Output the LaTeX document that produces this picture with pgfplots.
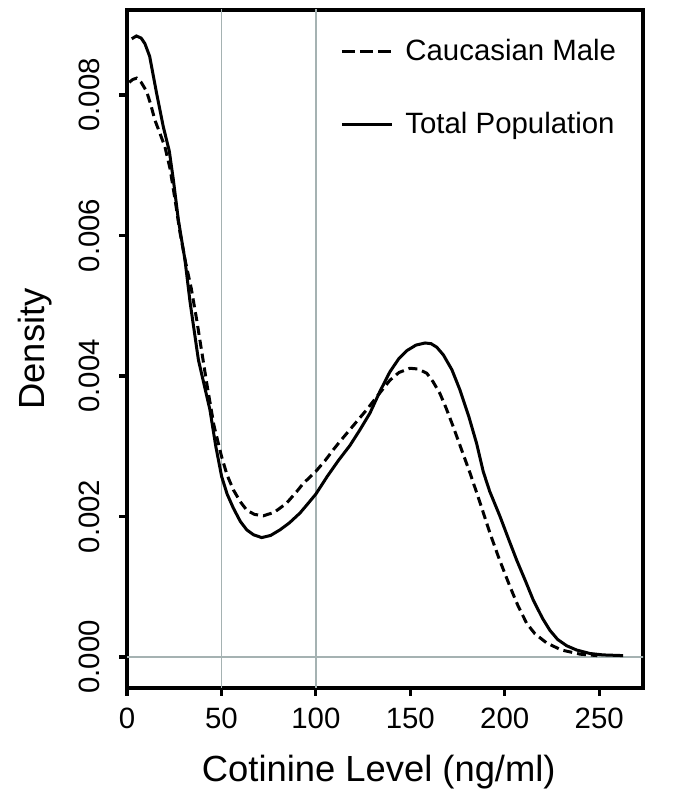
\documentclass[border=0pt]{standalone}
\usepackage{pgfplots}
\pgfplotsset{compat=1.18}
\usepackage{fontspec}
\setmainfont{Liberation Sans}
\definecolor{gridc}{RGB}{165,178,178}
\pgfplotstableread{
x y
2.5 0.00880
5 0.00884
7.5 0.00881
9.5 0.00873
12 0.00855
15.7 0.00802
19.2 0.00755
22.4 0.00720
24.5 0.00680
27.2 0.00622
30.7 0.00565
33.4 0.00505
37.8 0.00423
43.9 0.00352
47 0.00300
50.1 0.00257
53 0.00232
56.3 0.00212
60 0.00193
63.4 0.00181
67 0.00174
71.3 0.00170
76 0.00173
81 0.00181
86 0.00191
91.6 0.00205
96 0.00219
100 0.00232
106 0.00257
112 0.00280
118 0.00301
123 0.00322
128.6 0.00347
133.9 0.00378
139.2 0.00406
144 0.00425
148.1 0.00436
153 0.00444
157.8 0.00447
161 0.00446
164 0.00441
167.5 0.00430
172 0.00409
176.3 0.00380
181 0.00342
185.1 0.00304
188.6 0.00264
192 0.00236
197.5 0.00200
202 0.00168
206.3 0.00138
211 0.00108
215.1 0.00081
220 0.00055
223.9 0.00038
228 0.00025
232.8 0.00016
238 0.00010
245.1 0.00005
252 0.00003
262.7 0.00002
}\total
\pgfplotstableread{
x y
1.2 0.00818
3 0.00822
5.1 0.00824
7.5 0.00818
10.4 0.00805
12.5 0.00787
14.8 0.00764
17.5 0.00745
20.1 0.00726
22.8 0.00695
25.5 0.00650
28 0.00605
31 0.00562
34 0.00525
36.9 0.00480
42.2 0.00390
46 0.00330
50.1 0.00285
53 0.00259
56.3 0.00238
60 0.00221
63.4 0.00209
67.5 0.00203
72.2 0.00201
78 0.00206
84.5 0.00219
90 0.00236
93.3 0.00247
99.9 0.00264
105 0.00280
109.2 0.00295
112.8 0.00307
120 0.00330
126.9 0.00352
133 0.00373
139.2 0.00394
144 0.00405
149.8 0.00411
154 0.00410
158.7 0.00404
162 0.00392
165.7 0.00375
169 0.00354
172.7 0.00328
177 0.00296
181.6 0.00262
187 0.00219
192.2 0.00176
197 0.00140
202.8 0.00100
207 0.00073
211.6 0.00048
216 0.00033
222.2 0.00020
230 0.00010
240 0.00004
249 0.00002
}\caucm
\begin{document}
\begin{tikzpicture}
\begin{axis}[
  name=ax,
  scale only axis,
  width=258bp, height=339bp,
  xmin=0, xmax=273.2,
  ymin=-0.000441, ymax=0.00921,
  axis line style={line width=1.6bp},
  every tick/.style={black, line width=1.6bp},
  tick align=outside,
  major tick length=4bp,
  xtick pos=left, ytick pos=left,
  xtick={0,50,100,150,200,250},
  ytick={0,0.002,0.004,0.006,0.008},
  scaled y ticks=false,
  /pgf/number format/assume math mode=true,
  yticklabel style={/pgf/number format/fixed, /pgf/number format/fixed zerofill, /pgf/number format/precision=3},
  tick label style={font=\fontsize{14.75}{17}\selectfont},
  yticklabel style={rotate=90, anchor=base},
  yticklabel shift=10bp,
  xticklabel shift=2.5bp,
  xlabel={Cotinine Level (ng/ml)},
  ylabel={Density},
  label style={font=\fontsize{18.25}{22}\selectfont},
  xlabel style={at={(axis description cs:0.488,0)}, anchor=base, yshift=-46.5bp},
  ylabel style={at={(axis description cs:-0.159,0.5)}, anchor=base},
  legend style={draw=none, fill=none, at={(axis description cs:0.4128,0.885)}, anchor=west,
    font=\fontsize{14.75}{17}\selectfont, row sep=24bp, inner sep=0pt,
    nodes={inner sep=0pt}, column sep=6bp},
  legend cell align=left,
  legend image code/.code={\draw[#1] (0bp,0bp) -- (25bp,0bp);},
]
\draw[gridc, line width=0.7bp] (axis cs:50,-0.001) -- (axis cs:50,0.01);
\draw[gridc, line width=0.7bp] (axis cs:100,-0.001) -- (axis cs:100,0.01);
\draw[gridc, line width=0.7bp] (axis cs:-10,0) -- (axis cs:300,0);
\addplot[black, line width=1.5bp, dash pattern=on 4.5bp off 2.5bp, forget plot] table {\caucm};
\addplot[black, line width=1.5bp, forget plot] table {\total};
\addlegendimage{black, line width=1.5bp, dash pattern=on 6.5bp off 2.5bp}
\addlegendentry{Caucasian Male}
\addlegendimage{black, line width=1.5bp}
\addlegendentry{Total Population}
\end{axis}
\path ([shift={(-63.5bp,-56.5bp)}]ax.south west) rectangle ([shift={(21bp,5bp)}]ax.north east);
\end{tikzpicture}
\end{document}
